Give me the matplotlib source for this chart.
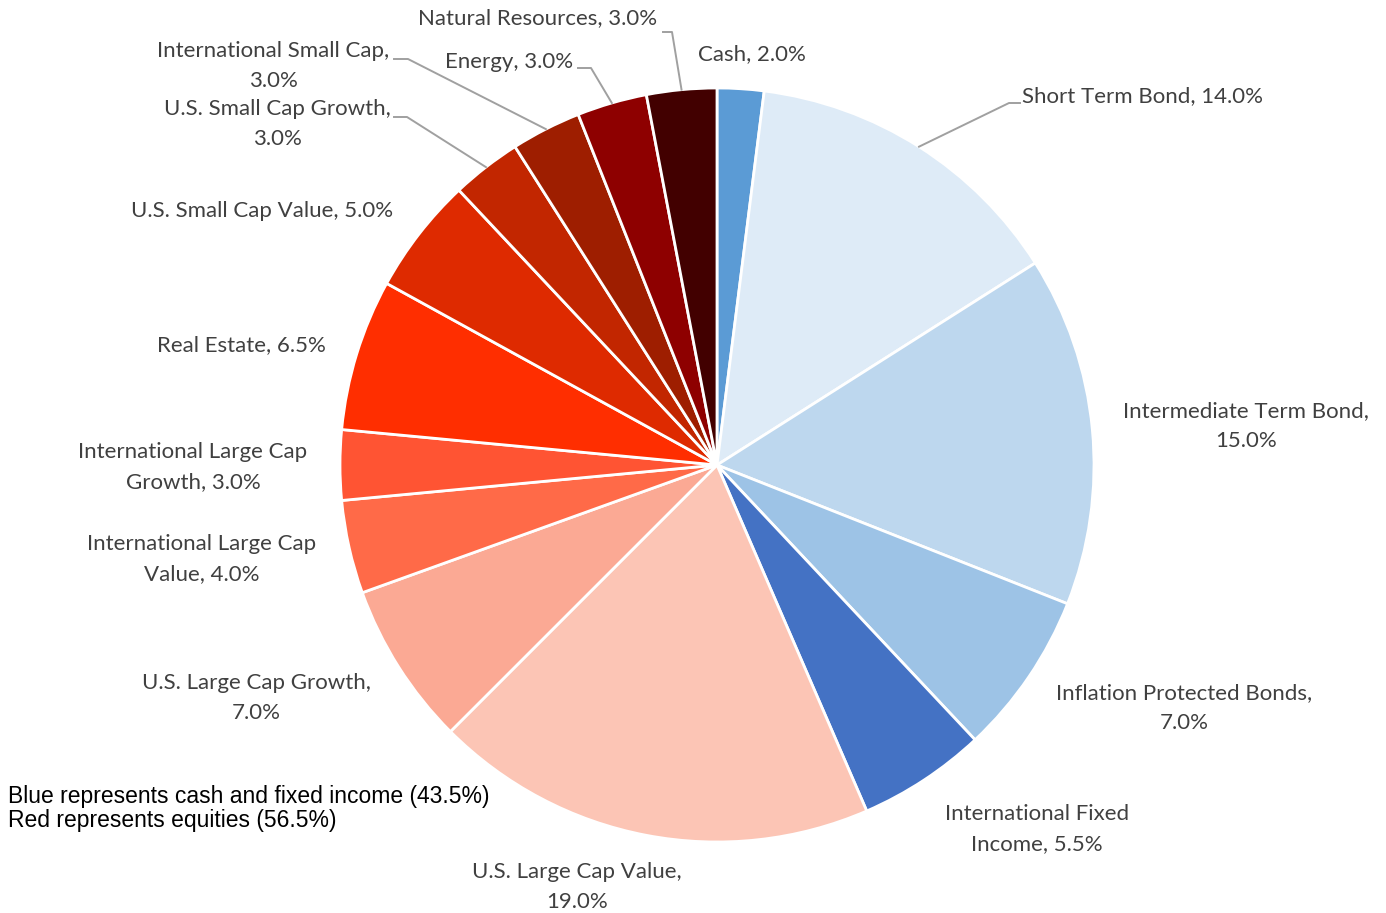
import numpy as np
import matplotlib
matplotlib.use("Agg")
import matplotlib.pyplot as plt

# ---- data ----
categories = ["Cash", "Short Term Bond", "Intermediate Term Bond", "Inflation Protected Bonds",
              "International Fixed Income", "U.S. Large Cap Value", "U.S. Large Cap Growth",
              "International Large Cap Value", "International Large Cap Growth", "Real Estate",
              "U.S. Small Cap Value", "U.S. Small Cap Growth", "International Small Cap",
              "Energy", "Natural Resources"]
values = [2.0, 14.0, 15.0, 7.0, 5.5, 19.0, 7.0, 4.0, 3.0, 6.5, 5.0, 3.0, 3.0, 3.0, 3.0]
colors = ["#5B9BD5", "#DEEBF7", "#BDD7EE", "#9DC3E6", "#4472C4",
          "#FCC5B5", "#FBA994", "#FF6A48", "#FF5433", "#FF2E00",
          "#DE2A00", "#C22600", "#9E1E00", "#8E0000", "#420000"]
notes = ["Blue represents cash and fixed income (43.5%)", "Red represents equities (56.5%)"]

# ---- layout ----
W, H = 1386, 913
CX, CY, R = 717, 913 - 465, 377

# (label text center x, y in image px, words before line break or None)
label_layout = {
    "Cash": (752, 54, None),
    "Short Term Bond": (1142, 96, None),
    "Intermediate Term Bond": (1246, 426, 3),
    "Inflation Protected Bonds": (1184, 708, 3),
    "International Fixed Income": (1037, 829, 2),
    "U.S. Large Cap Value": (577, 887, 4),
    "U.S. Large Cap Growth": (256, 698, 4),
    "International Large Cap Value": (202, 559, 3),
    "International Large Cap Growth": (193, 467, 3),
    "Real Estate": (241, 345, None),
    "U.S. Small Cap Value": (262, 211, None),
    "U.S. Small Cap Growth": (277, 124, 4),
    "International Small Cap": (273, 66, 3),
    "Energy": (509, 62, None),
    "Natural Resources": (538, 18, None),
}
# leader start points (image px): list of points before the wedge edge
leaders = {
    "Short Term Bond": [(1020, 103), (1009, 103)],
    "International Small Cap": [(394, 59), (408, 59)],
    "U.S. Small Cap Growth": [(394, 117), (407, 117)],
    "Energy": [(578, 68), (591, 68)],
    "Natural Resources": [(663, 32), (672, 32)],
}

fig = plt.figure(figsize=(W / 100, H / 100), dpi=100)
ax = fig.add_axes([0, 0, 1, 1])

wedges, _ = ax.pie(values, colors=colors, startangle=90, counterclock=False,
                   center=(CX, CY), radius=R, frame=True,
                   wedgeprops=dict(edgecolor="white", linewidth=2.0))
ax.set_xlim(0, W)
ax.set_ylim(0, H)
ax.set_aspect("equal")
ax.axis("off")

label_font = ["Lato", "DejaVu Sans"]
for name, val, w in zip(categories, values, wedges):
    x, y, brk = label_layout[name]
    words = name.split(" ")
    full = f"{name}, {val:.1f}%"
    if brk is not None:
        first = " ".join(words[:brk])
        rest = " ".join(words[brk:])
        if rest:
            txt = first + "\n" + rest + f", {val:.1f}%"
        else:
            txt = first + f",\n{val:.1f}%"
    else:
        txt = full
    ax.text(x, H - y, txt, ha="center", va="center", fontsize=16, color="#404040",
            family=label_font, linespacing=1.6)
    if name in leaders:
        mid = np.deg2rad((w.theta1 + w.theta2) / 2)
        ex, ey = CX + R * np.cos(mid), CY + R * np.sin(mid)
        pts = [(px, H - py) for px, py in leaders[name]] + [(ex, ey)]
        xs, ys = zip(*pts)
        ax.plot(xs, ys, color="#A0A0A0", linewidth=1.4, zorder=5)

ax.text(8, H - 796, notes[0], ha="left", va="center", fontsize=16.5, color="black",
        family=["Liberation Sans", "DejaVu Sans"])
ax.text(8, H - 820, notes[1], ha="left", va="center", fontsize=16.5, color="black",
        family=["Liberation Sans", "DejaVu Sans"])

fig.savefig("out.png", dpi=100, facecolor="white")
